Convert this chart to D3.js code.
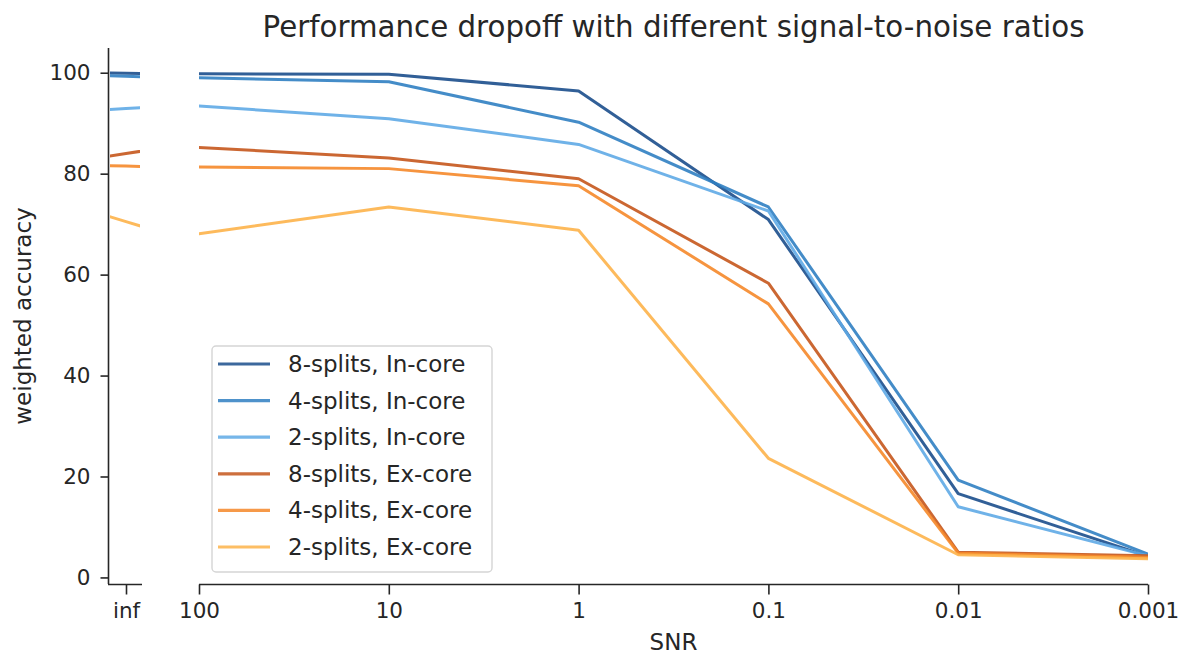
<!DOCTYPE html>
<html>
<head>
<meta charset="utf-8">
<script src="https://cdn.jsdelivr.net/npm/d3@7"></script>
<style>
  html, body { margin: 0; padding: 0; background: #fff; }
  svg { display: block; }
  text { font-family: "DejaVu Sans", sans-serif; fill: #262626; }
</style>
</head>
<body>
<svg id="chart" width="1187" height="658"></svg>
<script>
// ---- data ----
const snrLabels = ["inf", "100", "10", "1", "0.1", "0.01", "0.001"];
const seriesNames = ["8-splits, In-core", "4-splits, In-core", "2-splits, In-core",
                     "8-splits, Ex-core", "4-splits, Ex-core", "2-splits, Ex-core"];
const seriesColors = ["#1b4e8c", "#3080c2", "#5faae6", "#c5561c", "#f5882a", "#fdb34a"];
const in8 = [99.9, 99.8, 99.7, 96.4, 70.9, 16.6, 4.2];
const in4 = [99.3, 99.0, 98.2, 90.2, 73.4, 19.3, 4.6];
const in2 = [92.9, 93.4, 90.9, 85.8, 72.6, 14.0, 4.3];
const ex8 = [84.0, 85.2, 83.1, 79.0, 58.3, 5.0, 4.3];
const ex4 = [81.5, 81.3, 81.0, 77.6, 54.2, 4.8, 4.0];
const ex2 = [70.5, 68.1, 73.4, 68.8, 23.6, 4.5, 3.7];
const yTicks = [0, 20, 40, 60, 80, 100];
const allSeries = [in8, in4, in2, ex8, ex4, ex2];

const svg = d3.select("#chart");

// ---- scales ----
const y = d3.scaleLinear().domain([-1.3, 104.9]).range([584, 48]);
const xMain = d3.scaleLinear().domain([1, 6]).range([199, 1148]);
const xInf = d3.scaleLinear().domain([-0.45, 0.4]).range([108, 142]);

const defs = svg.append("defs");
defs.append("clipPath").attr("id", "clipMain")
  .append("rect").attr("x", 199).attr("y", 0).attr("width", 1148 - 199).attr("height", 658);
defs.append("clipPath").attr("id", "clipInf")
  .append("rect").attr("x", 110).attr("y", 0).attr("width", 30).attr("height", 658);

// ---- title ----
svg.append("text")
  .attr("x", (199 + 1148) / 2).attr("y", 37)
  .attr("text-anchor", "middle")
  .style("font-size", "29.3px")
  .text("Performance dropoff with different signal-to-noise ratios");

// ---- lines ----
const mainG = svg.append("g").attr("clip-path", "url(#clipMain)");
const infG = svg.append("g").attr("clip-path", "url(#clipInf)");

allSeries.forEach((vals, si) => {
  const pts = vals.map((v, i) => [i, v]);
  const lineMain = d3.line().x(d => xMain(d[0])).y(d => y(d[1]));
  mainG.append("path").datum(pts)
    .attr("d", lineMain)
    .attr("fill", "none")
    .attr("stroke", seriesColors[si])
    .attr("stroke-width", 3)
    .attr("stroke-linejoin", "round")
    .attr("opacity", 0.9);
  // inf panel: the inf→100 segment, continued straight to the left edge of the small panel
  const infPts = [[-1, vals[0] - (vals[1] - vals[0])], [0, vals[0]], [1, vals[1]]];
  const lineInf = d3.line().x(d => xInf(d[0])).y(d => y(d[1]));
  infG.append("path").datum(infPts)
    .attr("d", lineInf)
    .attr("fill", "none")
    .attr("stroke", seriesColors[si])
    .attr("stroke-width", 3)
    .attr("opacity", 0.9);
});

// ---- axes ----
const axisColor = "#262626";
const yAxis = d3.axisLeft(y).tickValues(yTicks).tickSize(8).tickPadding(10).tickFormat(d3.format("d"));
const gy = svg.append("g").attr("transform", "translate(108.5,0)").call(yAxis);
gy.select(".domain").attr("d", `M0,${y(104.9)}V${584}`);

const xAxisMain = d3.axisBottom(xMain).tickValues([1, 2, 3, 4, 5, 6])
  .tickFormat(i => snrLabels[i]).tickSize(10).tickPadding(8);
const gxm = svg.append("g").attr("transform", "translate(0,584.5)").call(xAxisMain);
gxm.select(".domain").attr("d", `M199,0H1148`);

const xAxisInf = d3.axisBottom(xInf).tickValues([0])
  .tickFormat(i => snrLabels[i]).tickSize(10).tickPadding(8);
const gxi = svg.append("g").attr("transform", "translate(0,584.5)").call(xAxisInf);
gxi.select(".domain").attr("d", `M108,0H142`);

[gy, gxm, gxi].forEach(g => {
  g.selectAll(".domain").attr("stroke", axisColor).attr("stroke-width", 1.6).attr("fill", "none");
  g.selectAll(".tick line").attr("stroke", axisColor).attr("stroke-width", 1.6);
  g.selectAll(".tick text").style("font-size", "21.5px").style("font-family", "DejaVu Sans, sans-serif").attr("fill", "#262626");
});

// ---- axis labels ----
svg.append("text")
  .attr("x", (199 + 1148) / 2).attr("y", 650)
  .attr("text-anchor", "middle")
  .style("font-size", "23px")
  .text("SNR");
svg.append("text")
  .attr("transform", "translate(31,316) rotate(-90)")
  .attr("text-anchor", "middle")
  .style("font-size", "23px")
  .text("weighted accuracy");

// ---- legend ----
const lg = svg.append("g");
lg.append("rect")
  .attr("x", 212).attr("y", 346).attr("width", 280).attr("height", 226)
  .attr("rx", 4).attr("ry", 4)
  .attr("fill", "#fff").attr("fill-opacity", 0.85)
  .attr("stroke", "#d5d5d5").attr("stroke-width", 1.4);
seriesNames.forEach((name, i) => {
  const cy = 364 + i * 36.6;
  lg.append("line")
    .attr("x1", 218).attr("x2", 270).attr("y1", cy).attr("y2", cy)
    .attr("stroke", seriesColors[i]).attr("stroke-width", 3.2).attr("opacity", 0.85);
  lg.append("text")
    .attr("x", 288).attr("y", cy + 8)
    .style("font-size", "23px")
    .text(name);
});
</script>
</body>
</html>
